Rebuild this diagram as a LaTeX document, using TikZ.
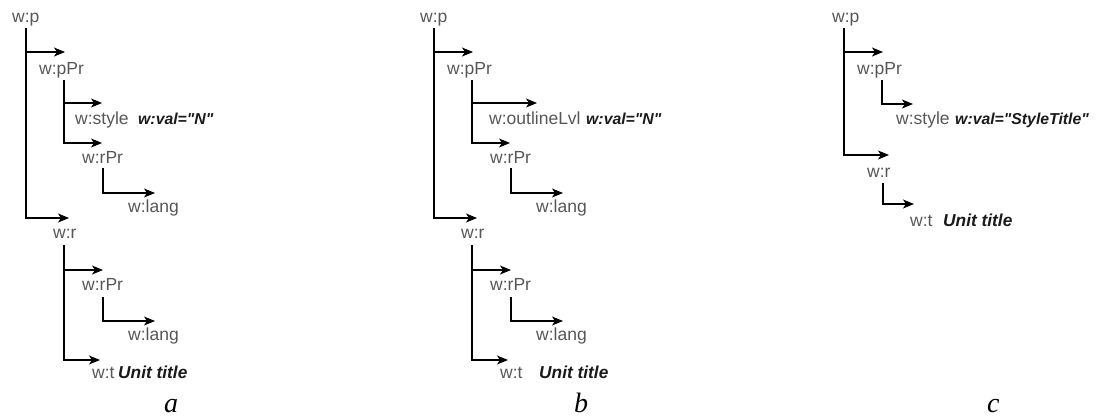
\documentclass[tikz,border=0pt]{standalone}
\usepackage{fontspec}
\setmainfont{Liberation Sans}
\newfontfamily\valfont{Liberation Sans}[Ligatures=TeXOff]
\newfontfamily\capfont{Liberation Serif}
\usetikzlibrary{arrows.meta}
\definecolor{lbl}{HTML}{575757}
\definecolor{valc}{HTML}{1A1A1A}
\tikzset{
  arr/.style={draw=black, line width=1.1pt, -{Stealth[length=11pt,width=9pt,inset=3pt]}},
  tag/.style={anchor=base west, inner sep=0pt, text=lbl, font=\fontsize{17.5}{19}\selectfont},
  val/.style={anchor=base west, inner sep=0pt, text=valc, font=\valfont\fontsize{15.8}{18}\selectfont\bfseries\itshape},
  tval/.style={anchor=base west, inner sep=0pt, text=valc, font=\fontsize{17.3}{19}\selectfont\bfseries\itshape},
  captext/.style={anchor=base west, inner sep=0pt, text=black, font=\fontsize{28}{30}\selectfont\capfont\itshape}
}
\begin{document}
\begin{tikzpicture}[x=1pt,y=-1pt]
\useasboundingbox (0,0) rectangle (1098,416);
% ---------- panel a ----------
\node[tag] (a-p) at (12,22) {w:p};
\node[tag] (a-ppr) at (39,74) {w:pPr};
\node[tag] (a-style) at (75,124) {w:style};
\node[val] (a-sval) at (138,124) {w:val="N"};
\node[tag] (a-rpr1) at (82,163) {w:rPr};
\node[tag] (a-lang1) at (128,212) {w:lang};
\node[tag] (a-r) at (53,238) {w:r};
\node[tag] (a-rpr2) at (82,290) {w:rPr};
\node[tag] (a-lang2) at (128,340) {w:lang};
\node[tag] (a-t) at (92,378) {w:t};
\node[tval] (a-tval) at (118,378) {Unit title};
\node[captext] (a-cap) at (164,412) {a};
\coordinate (a-p-s) at (26,28);
\coordinate (a-ppr-in) at (65,52);
\coordinate (a-r-in) at (69,218);
\coordinate (a-ppr-s) at (64,80);
\coordinate (a-style-in) at (102,103);
\coordinate (a-rpr1-in) at (102,143);
\coordinate (a-rpr1-s) at (103,168);
\coordinate (a-lang1-in) at (155,193);
\coordinate (a-r-s) at (64,245);
\coordinate (a-rpr2-in) at (103,270);
\coordinate (a-t-in) at (100,360);
\coordinate (a-rpr2-s) at (103,297);
\coordinate (a-lang2-in) at (155,321);
\draw[arr] (a-p-s) |- (a-ppr-in);
\draw[arr] (a-p-s) |- (a-r-in);
\draw[arr] (a-ppr-s) |- (a-style-in);
\draw[arr] (a-ppr-s) |- (a-rpr1-in);
\draw[arr] (a-rpr1-s) |- (a-lang1-in);
\draw[arr] (a-r-s) |- (a-rpr2-in);
\draw[arr] (a-r-s) |- (a-t-in);
\draw[arr] (a-rpr2-s) |- (a-lang2-in);
% ---------- panel b ----------
\node[tag] (b-p) at (420,22) {w:p};
\node[tag] (b-ppr) at (447,74) {w:pPr};
\node[tag] (b-ol) at (489,124) {w:outlineLvl};
\node[val] (b-oval) at (586,124) {w:val="N"};
\node[tag] (b-rpr1) at (490,163) {w:rPr};
\node[tag] (b-lang1) at (536,212) {w:lang};
\node[tag] (b-r) at (461,238) {w:r};
\node[tag] (b-rpr2) at (490,290) {w:rPr};
\node[tag] (b-lang2) at (536,340) {w:lang};
\node[tag] (b-t) at (500,378) {w:t};
\node[tval] (b-tval) at (539,378) {Unit title};
\node[captext] (b-cap) at (574,412) {b};
\coordinate (b-p-s) at (434,28);
\coordinate (b-ppr-in) at (473,52);
\coordinate (b-r-in) at (477,218);
\coordinate (b-ppr-s) at (472,80);
\coordinate (b-ol-in) at (537,103);
\coordinate (b-rpr1-in) at (510,143);
\coordinate (b-rpr1-s) at (511,168);
\coordinate (b-lang1-in) at (563,193);
\coordinate (b-r-s) at (472,245);
\coordinate (b-rpr2-in) at (511,270);
\coordinate (b-t-in) at (508,360);
\coordinate (b-rpr2-s) at (511,297);
\coordinate (b-lang2-in) at (563,321);
\draw[arr] (b-p-s) |- (b-ppr-in);
\draw[arr] (b-p-s) |- (b-r-in);
\draw[arr] (b-ppr-s) |- (b-ol-in);
\draw[arr] (b-ppr-s) |- (b-rpr1-in);
\draw[arr] (b-rpr1-s) |- (b-lang1-in);
\draw[arr] (b-r-s) |- (b-rpr2-in);
\draw[arr] (b-r-s) |- (b-t-in);
\draw[arr] (b-rpr2-s) |- (b-lang2-in);
% ---------- panel c ----------
\node[tag] (c-p) at (832,22) {w:p};
\node[tag] (c-ppr) at (857,74) {w:pPr};
\node[tag] (c-style) at (896,124) {w:style};
\node[val] (c-sval) at (955,124) {w:val="StyleTitle"};
\node[tag] (c-r) at (867,177) {w:r};
\node[tag] (c-t) at (910,226) {w:t};
\node[tval] (c-tval) at (943,226) {Unit title};
\node[captext] (c-cap) at (987,412) {c};
\coordinate (c-p-s) at (844,28);
\coordinate (c-ppr-in) at (883,52);
\coordinate (c-r-in) at (889,155);
\coordinate (c-ppr-s) at (882,80);
\coordinate (c-style-in) at (913,104);
\coordinate (c-r-s) at (883,183);
\coordinate (c-t-in) at (914,204);
\draw[arr] (c-p-s) |- (c-ppr-in);
\draw[arr] (c-p-s) |- (c-r-in);
\draw[arr] (c-ppr-s) |- (c-style-in);
\draw[arr] (c-r-s) |- (c-t-in);
\end{tikzpicture}
\end{document}
